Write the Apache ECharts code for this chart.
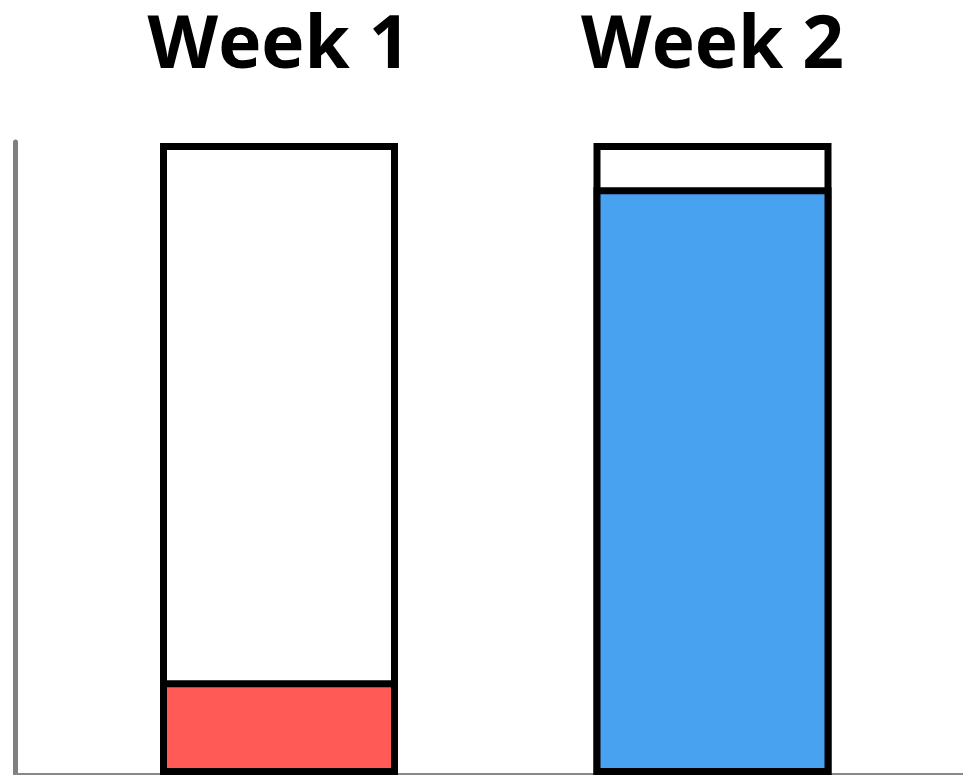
<!DOCTYPE html>
<html>
<head>
<meta charset="utf-8">
<script src="https://cdn.jsdelivr.net/npm/echarts@6/dist/echarts.min.js"></script>
<style>html,body{margin:0;padding:0;background:#fff;}#c{width:963px;height:775px;}</style>
</head>
<body>
<div id="c"></div>
<script>
const categories = ['Week 1', 'Week 2'];
const totals = [100, 100];
const values = [15, 93];
const fillColors = ['#FF5A55', '#48A2F0'];

const chart = echarts.init(document.getElementById('c'), null, {renderer: 'canvas'});
chart.setOption({
  animation: false,
  backgroundColor: '#ffffff',
  grid: [
    {left: 15.5, right: 0, top: 142, bottom: 1},
    {left: 62.25, right: 33.75, top: 143, bottom: 0}
  ],
  xAxis: [
    {gridIndex: 0, type: 'value', min: 0, max: 1,
     axisLine: {show: true, lineStyle: {color: '#888888', width: 2}},
     axisTick: {show: false}, axisLabel: {show: false}, splitLine: {show: false}},
    {gridIndex: 1, type: 'category', data: categories, position: 'top',
     axisLine: {show: false}, axisTick: {show: false}, splitLine: {show: false},
     axisLabel: {show: true, margin: 59, color: '#000', fontSize: 73, fontWeight: 'bold', fontFamily: 'Open Sans'}}
  ],
  yAxis: [
    {gridIndex: 0, type: 'value', min: 0, max: 1,
     axisLine: {show: true, lineStyle: {color: '#808080', width: 5, cap: 'round'}},
     axisTick: {show: false}, axisLabel: {show: false}, splitLine: {show: false}},
    {gridIndex: 1, type: 'value', min: 0, max: 100, show: false}
  ],
  series: [
    {type: 'bar', xAxisIndex: 1, yAxisIndex: 1, data: totals, barWidth: 238, barGap: '-100%',
     itemStyle: {color: '#ffffff', borderColor: '#000', borderWidth: 7}, z: 2},
    {type: 'bar', xAxisIndex: 1, yAxisIndex: 1,
     data: values.map((v, i) => ({value: v, itemStyle: {color: fillColors[i]}})),
     barWidth: 238, barGap: '-100%',
     itemStyle: {borderColor: '#000', borderWidth: 7}, z: 3}
  ]
});
</script>
</body>
</html>
